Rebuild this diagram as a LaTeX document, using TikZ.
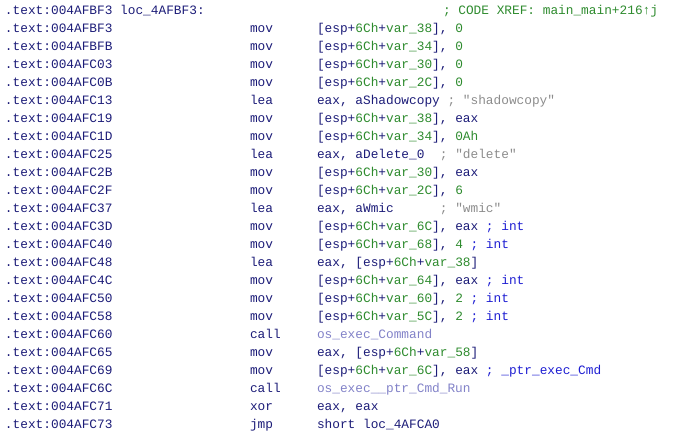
\documentclass[tikz,border=0pt]{standalone}
\usepackage{fontspec}
\setmonofont{Liberation Mono}
\usetikzlibrary{positioning}
\definecolor{nv}{HTML}{1C1C78}
\definecolor{gr}{HTML}{2E8B2E}
\definecolor{cm}{HTML}{8C8C8C}
\definecolor{bl}{HTML}{1E1ED2}
\definecolor{pu}{HTML}{8282C8}
\newcommand{\G}[1]{\textcolor{gr}{#1}}
\newcommand{\Cm}[1]{\textcolor{cm}{#1}}
\newcommand{\Bl}[1]{\textcolor{bl}{#1}}
\newcommand{\Pu}[1]{\textcolor{pu}{#1}}
\newcommand{\V}[1]{[esp+\G{6Ch}+\G{var\_#1}]}
\tikzset{x=1pt,y=1pt,
 txt/.style={anchor=base west,inner sep=0pt,outer sep=0pt,text=nv,font=\ttfamily\fontsize{12.8}{14}\selectfont}}
\begin{document}
\begin{tikzpicture}
\useasboundingbox (0,0) rectangle (693,435);
\newcommand{\Row}[4]{%
 \node[txt] (a#1) at (5,{435-15-17.96*#1}) {.text:#2};
 \node[txt] (m#1) at (250,{435-15-17.96*#1}) {#3};
 \node[txt] (o#1) at (317,{435-15-17.96*#1}) {#4};}
\node[txt] (a0) at (5,420) {.text:004AFBF3 loc\_4AFBF3:};
\node[txt] (x0) at (443,420) {\G{; CODE XREF: main\_main+216↑j}};
\Row{1}{004AFBF3}{mov}{\V{38}, \G{0}}
\Row{2}{004AFBFB}{mov}{\V{34}, \G{0}}
\Row{3}{004AFC03}{mov}{\V{30}, \G{0}}
\Row{4}{004AFC0B}{mov}{\V{2C}, \G{0}}
\Row{5}{004AFC13}{lea}{eax, aShadowcopy \Cm{; "shadowcopy"}}
\Row{6}{004AFC19}{mov}{\V{38}, eax}
\Row{7}{004AFC1D}{mov}{\V{34}, \G{0Ah}}
\Row{8}{004AFC25}{lea}{eax, aDelete\_0~~\Cm{; "delete"}}
\Row{9}{004AFC2B}{mov}{\V{30}, eax}
\Row{10}{004AFC2F}{mov}{\V{2C}, \G{6}}
\Row{11}{004AFC37}{lea}{eax, aWmic~~~~~~\Cm{; "wmic"}}
\Row{12}{004AFC3D}{mov}{\V{6C}, eax \Bl{; int}}
\Row{13}{004AFC40}{mov}{\V{68}, \G{4} \Bl{; int}}
\Row{14}{004AFC48}{lea}{eax, \V{38}}
\Row{15}{004AFC4C}{mov}{\V{64}, eax \Bl{; int}}
\Row{16}{004AFC50}{mov}{\V{60}, \G{2} \Bl{; int}}
\Row{17}{004AFC58}{mov}{\V{5C}, \G{2} \Bl{; int}}
\Row{18}{004AFC60}{call}{\Pu{os\_exec\_Command}}
\Row{19}{004AFC65}{mov}{eax, \V{58}}
\Row{20}{004AFC69}{mov}{\V{6C}, eax \Bl{; \_ptr\_exec\_Cmd}}
\Row{21}{004AFC6C}{call}{\Pu{os\_exec\_\_ptr\_Cmd\_Run}}
\Row{22}{004AFC71}{xor}{eax, eax}
\Row{23}{004AFC73}{jmp}{short loc\_4AFCA0}
\end{tikzpicture}
\end{document}
